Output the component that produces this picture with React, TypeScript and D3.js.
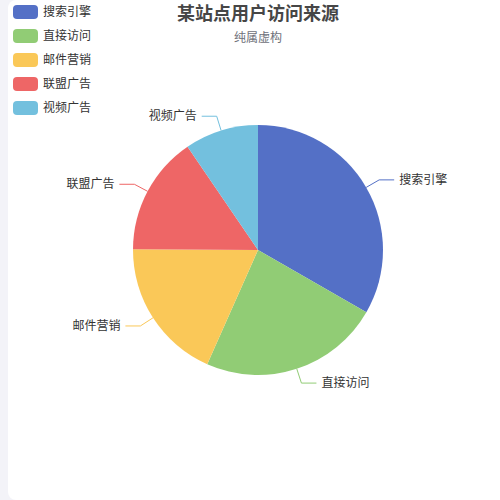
import React, { useEffect, useRef } from "react";
import * as d3 from "d3";

const categories = ["搜索引擎", "直接访问", "邮件营销", "联盟广告", "视频广告"];
const values = [1048, 735, 580, 484, 300];
const colors = ["#5470c6", "#91cc75", "#fac858", "#ee6666", "#73c0de"];
const titleText = "某站点用户访问来源";
const subText = "纯属虚构";

const W = 500;
const H = 500;
const FONT = "'Noto Sans CJK SC', 'Noto Sans', sans-serif";

export default function App() {
    const svgRef = useRef(null);

    useEffect(() => {
        const svg = d3.select(svgRef.current);
        svg.selectAll("*").remove();

        svg.append("rect")
            .attr("width", W)
            .attr("height", H)
            .attr("rx", 8)
            .attr("fill", "#ffffff");

        const cx = W / 2;
        const cy = H / 2;
        const radius = Math.min(W, H) / 4;

        const data = categories.map((c, i) => ({ name: c, value: values[i], color: colors[i] }));

        const pie = d3.pie<any>()
            .value(d => d.value)
            .sort(null);
        const arcs = pie(data);
        const arc = d3.arc<any>().innerRadius(0).outerRadius(radius);

        const g = svg.append("g").attr("transform", `translate(${cx},${cy})`);

        g.selectAll("path.slice")
            .data(arcs)
            .join("path")
            .attr("class", "slice")
            .attr("d", arc)
            .attr("fill", d => d.data.color);

        // label lines + labels
        arcs.forEach(a => {
            const mid = (a.startAngle + a.endAngle) / 2;
            const sx = Math.sin(mid);
            const sy = -Math.cos(mid);
            const p1 = [sx * radius, sy * radius];
            const p2 = [sx * (radius + 15), sy * (radius + 15)];
            const dir = sx >= 0 ? 1 : -1;
            const p3 = [p2[0] + dir * 15, p2[1]];
            g.append("polyline")
                .attr("points", [p1, p2, p3].map(p => p.join(",")).join(" "))
                .attr("fill", "none")
                .attr("stroke", a.data.color)
                .attr("stroke-width", 1);
            g.append("text")
                .attr("x", p3[0] + dir * 5)
                .attr("y", p3[1])
                .attr("dy", "0.35em")
                .attr("text-anchor", dir > 0 ? "start" : "end")
                .attr("fill", "#333")
                .style("font-size", "12px")
                .style("font-family", FONT)
                .text(a.data.name);
        });

        // title
        svg.append("text")
            .attr("x", cx)
            .attr("y", 14)
            .attr("dy", "0.35em")
            .attr("text-anchor", "middle")
            .attr("fill", "#464646")
            .style("font-size", "18px")
            .style("font-weight", "bold")
            .style("font-family", FONT)
            .text(titleText);

        svg.append("text")
            .attr("x", cx)
            .attr("y", 38)
            .attr("dy", "0.35em")
            .attr("text-anchor", "middle")
            .attr("fill", "#6e7079")
            .style("font-size", "12px")
            .style("font-family", FONT)
            .text(subText);

        // legend
        const legend = svg.append("g").attr("transform", "translate(5,5)");
        const items = legend.selectAll("g")
            .data(data)
            .join("g")
            .attr("transform", (d, i) => `translate(0,${i * 24})`);
        items.append("rect")
            .attr("width", 25)
            .attr("height", 14)
            .attr("rx", 4)
            .attr("fill", d => d.color);
        items.append("text")
            .attr("x", 30)
            .attr("y", 7)
            .attr("dy", "0.35em")
            .attr("fill", "#333")
            .style("font-size", "12px")
            .style("font-family", FONT)
            .text(d => d.name);
    }, []);

    return (
        <div style={{ position: "fixed", inset: 0, background: "#f3f3f8" }}>
            <svg ref={svgRef} width={W} height={H}
                 style={{ position: "absolute", left: 8, top: 0, display: "block" }} />
        </div>
    );
}
